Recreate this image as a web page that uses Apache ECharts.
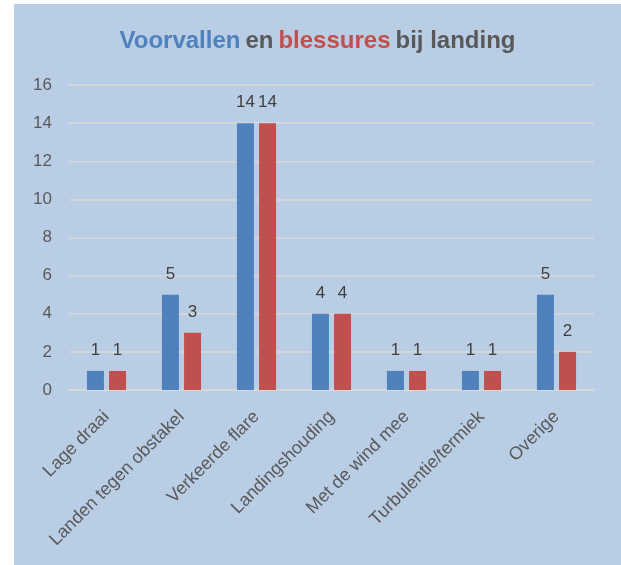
<!DOCTYPE html>
<html>
<head>
<meta charset="utf-8">
<script src="https://cdn.jsdelivr.net/npm/echarts@6/dist/echarts.min.js"></script>
<style>
  html, body { margin: 0; padding: 0; background: #fff; }
  #panel {
    position: absolute; left: 14px; top: 4px;
    width: 607px; height: 561px;
    background: #b9cde5;
  }
  #chart { width: 607px; height: 561px; }
</style>
</head>
<body>
<div id="panel"><div id="chart"></div></div>
<script>
var categories = ["Lage draai", "Landen tegen obstakel", "Verkeerde flare", "Landingshouding",
  "Met de wind mee", "Turbulentie/termiek", "Overige"];
var voorvallen = [1, 5, 14, 4, 1, 1, 5];
var blessures = [1, 3, 14, 4, 1, 1, 2];

var chart = echarts.init(document.getElementById("chart"));
var font = "Liberation Sans, Arial, sans-serif";

var barLabel = {
  show: true,
  position: "top",
  distance: 12,
  color: "#404040",
  fontSize: 17,
  fontFamily: font
};

chart.setOption({
  backgroundColor: "transparent",
  animation: false,
  title: {
    left: "center",
    top: 20,
    text: "{b|Voorvallen} {g|en} {r|blessures} {g|bij landing}",
    textStyle: {
      rich: {
        b: { color: "#4f81bd", fontSize: 24, fontWeight: "bold", fontFamily: font },
        r: { color: "#c0504d", fontSize: 24, fontWeight: "bold", fontFamily: font },
        g: { color: "#595959", fontSize: 24, fontWeight: "bold", fontFamily: font }
      }
    }
  },
  grid: {
    left: 55,
    right: 27,
    top: 81,
    bottom: 175
  },
  xAxis: {
    type: "category",
    data: categories,
    axisTick: { show: false },
    axisLine: { lineStyle: { color: "#d9d9d9", width: 1.5 } },
    axisLabel: {
      rotate: 45,
      interval: 0,
      margin: 24,
      color: "#595959",
      fontSize: 18,
      fontFamily: font
    }
  },
  yAxis: {
    type: "value",
    min: 0,
    max: 16,
    interval: 2,
    axisLine: { show: false },
    axisTick: { show: false },
    splitLine: { lineStyle: { color: "#d9d9d9", width: 1.5 } },
    axisLabel: {
      margin: 17,
      color: "#595959",
      fontSize: 17,
      fontFamily: font
    }
  },
  series: [
    {
      name: "Voorvallen",
      type: "bar",
      data: voorvallen,
      barWidth: 17,
      barGap: "30%",
      itemStyle: { color: "#4f81bd" },
      label: barLabel
    },
    {
      name: "Blessures",
      type: "bar",
      data: blessures,
      barWidth: 17,
      itemStyle: { color: "#c0504d" },
      label: barLabel
    }
  ]
});
</script>
</body>
</html>
